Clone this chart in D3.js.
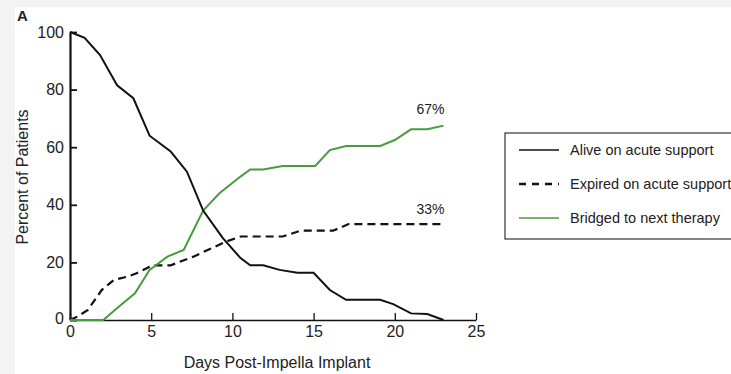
<!DOCTYPE html>
<meta charset="utf-8">
<style>
  body { margin: 0; background: #fff; }
  text { font-family: "Liberation Sans", Arial, sans-serif; fill: #222; }
  .axis path, .axis line { stroke: #111; }
</style>
<body>
<script src="https://d3js.org/d3.v7.min.js"></script>
<script>

// data (days post implant, percent of patients)
var aliveDays = [0, 0.9, 1.85, 2.9, 3.9, 4.9, 6.2, 7.2, 8.2, 9.4, 10.5, 11.1, 11.9, 12.9, 14, 15, 16, 17, 19.1, 19.9, 21, 22, 23];
var aliveVals = [100, 98, 92, 81.5, 77, 64, 58.5, 51.5, 38, 28.5, 21.5, 19, 19, 17.4, 16.4, 16.4, 10.4, 7, 7, 5.5, 2.3, 2.1, 0];

var expiredDays = [0, 0.4, 1.1, 1.95, 2.7, 3.5, 4.1, 5.1, 6.2, 7.6, 9.6, 10.5, 13.1, 14.2, 16.2, 17.15, 23];
var expiredVals = [0, 1, 3.5, 10.4, 13.9, 15, 16.2, 19, 19, 22, 27.2, 29, 29, 31, 31, 33.3, 33.3];

var bridgedDays = [0, 2.05, 3, 4, 4.9, 6, 7, 8.2, 9.2, 10.5, 11.1, 11.9, 13.1, 15.1, 16, 17, 19.1, 20, 21, 22, 23];
var bridgedVals = [0, 0, 4.6, 9.3, 17.4, 22, 24.3, 38, 44, 49.8, 52.3, 52.3, 53.5, 53.5, 59, 60.4, 60.4, 62.5, 66.2, 66.2, 67.5];

var xTicks = [0, 5, 10, 15, 20, 25];
var yTicks = [0, 20, 40, 60, 80, 100];
var seriesNames = ['Alive on acute support', 'Expired on acute support', 'Bridged to next therapy'];
var endLabels = ['67%', '33%'];

var width = 731, height = 374;
var green = '#4a9a3f';

var svg = d3.select('body').append('svg').attr('width', width).attr('height', height);

// light grey frame around the white panel, as in the scan
svg.append('rect').attr('width', width).attr('height', height).attr('fill', '#f3f3f3');
svg.append('rect').attr('x', 15).attr('y', 7).attr('width', width).attr('height', height).attr('fill', '#fff');

var x = d3.scaleLinear().domain([0, 25]).range([70, 476]);
var y = d3.scaleLinear().domain([0, 100]).range([320, 32]);

var zip = function (ds, vs) { return ds.map(function (d, i) { return [d, vs[i]]; }); };
var line = d3.line().x(function (d) { return x(d[0]); }).y(function (d) { return y(d[1]); });

// axes, ticks pointing inward
var xAxis = svg.append('g').attr('class', 'axis').attr('transform', 'translate(0,' + y(0) + ')')
  .call(d3.axisBottom(x).tickValues(xTicks).tickSizeInner(-7).tickSizeOuter(0).tickPadding(6));
xAxis.select('.domain').attr('stroke-width', 1.5);
xAxis.selectAll('line').attr('stroke-width', 1.3);
xAxis.selectAll('text').style('font-size', '16px').attr('fill', '#222');

var yAxis = svg.append('g').attr('class', 'axis').attr('transform', 'translate(' + x(0) + ',0)')
  .call(d3.axisLeft(y).tickValues(yTicks).tickSizeInner(-7).tickSizeOuter(0).tickPadding(6));
yAxis.select('.domain').attr('stroke-width', 2.2);
yAxis.selectAll('line').attr('stroke-width', 1.8);
yAxis.selectAll('text').style('font-size', '16px').attr('fill', '#222');
yAxis.selectAll('.tick').filter(function (d) { return d === 0; }).select('text').attr('dy', '0.2em');

// the three curves
svg.append('path').datum(zip(expiredDays, expiredVals)).attr('d', line)
  .attr('fill', 'none').attr('stroke', '#111').attr('stroke-width', 2.2).attr('stroke-dasharray', '8,5');
svg.append('path').datum(zip(bridgedDays, bridgedVals)).attr('d', line)
  .attr('fill', 'none').attr('stroke', green).attr('stroke-width', 2);
svg.append('path').datum(zip(aliveDays, aliveVals)).attr('d', line)
  .attr('fill', 'none').attr('stroke', '#111').attr('stroke-width', 2);

// end values
svg.append('text').attr('x', x(23) - 13).attr('y', y(bridgedVals[bridgedVals.length - 1]) - 12)
  .attr('text-anchor', 'middle').style('font-size', '14px').text(endLabels[0]);
svg.append('text').attr('x', x(23) - 13).attr('y', y(expiredVals[expiredVals.length - 1]) - 10)
  .attr('text-anchor', 'middle').style('font-size', '14px').text(endLabels[1]);

// titles
svg.append('text').attr('x', 17).attr('y', 21).style('font-size', '15px').style('font-weight', 'bold').text('A');
svg.append('text').attr('transform', 'translate(28,177) rotate(-90)').attr('text-anchor', 'middle')
  .style('font-size', '16px').text('Percent of Patients');
svg.append('text').attr('x', 277).attr('y', 368).attr('text-anchor', 'middle')
  .style('font-size', '16px').text('Days Post-Impella Implant');

// legend (runs off the right edge, like the original)
var legend = svg.append('g').attr('transform', 'translate(505,133)');
legend.append('rect').attr('width', 240).attr('height', 106)
  .attr('fill', '#fff').attr('stroke', '#333').attr('stroke-width', 1.2);
var styles = [
  { stroke: '#111', dash: null, w: 1.6 },
  { stroke: '#111', dash: '7,6', w: 2.4 },
  { stroke: green, dash: null, w: 1.6 }
];
seriesNames.forEach(function (name, i) {
  var ry = 17 + i * 34;
  legend.append('line').attr('x1', 14).attr('x2', 54).attr('y1', ry).attr('y2', ry)
    .attr('stroke', styles[i].stroke).attr('stroke-width', styles[i].w)
    .attr('stroke-dasharray', styles[i].dash);
  legend.append('text').attr('x', 65).attr('y', ry).attr('dy', '0.35em')
    .style('font-size', '14.5px').text(name);
});

</script>
</body>
